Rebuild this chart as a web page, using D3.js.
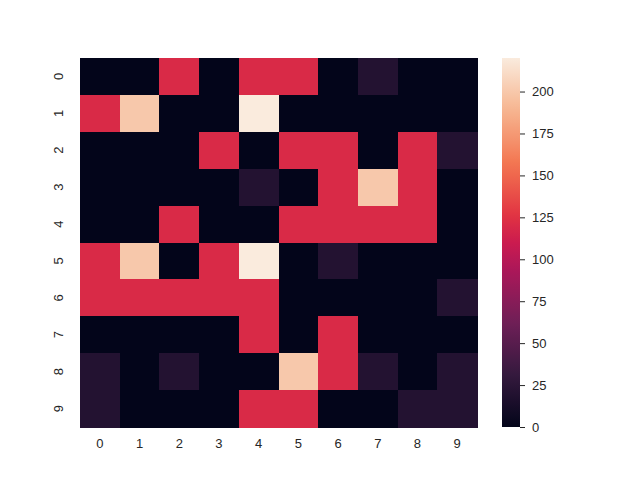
<!DOCTYPE html>
<html><head><meta charset="utf-8">
<script src="https://cdn.jsdelivr.net/npm/d3@7"></script>
<style>body{margin:0;background:#fff}svg text{font-family:"Liberation Sans",Arial,sans-serif;fill:#262626}</style>
</head><body><svg id="c" width="640" height="480"></svg>
<script>
const rowLabels = ["0","1","2","3","4","5","6","7","8","9"];
const colLabels = ["0","1","2","3","4","5","6","7","8","9"];
const values = [
 [0,0,120,0,120,120,0,20,0,0],
 [120,200,0,0,220,0,0,0,0,0],
 [0,0,0,120,0,120,120,0,120,20],
 [0,0,0,0,20,0,120,200,120,0],
 [0,0,120,0,0,120,120,120,120,0],
 [120,200,0,120,220,0,20,0,0,0],
 [120,120,120,120,120,0,0,0,0,20],
 [0,0,0,0,120,0,120,0,0,0],
 [20,0,20,0,0,200,120,20,0,20],
 [20,0,0,0,120,120,0,0,20,20]
];
const cbarTicks = [0,25,50,75,100,125,150,175,200];
const vmin = 0, vmax = 220;

const rocketStops = ["#03051a","#35193e","#701f57","#ad1759","#cb1b4f","#e13342","#f37651","#f6b48f","#faebdd"];
const stopPos = [0,1/7,2/7,3/7,0.5,4/7,5/7,6/7,1];
const rocket = d3.scaleLinear().domain(stopPos).range(rocketStops).interpolate(d3.interpolateRgb);
const color = v => rocket((v - vmin) / (vmax - vmin));

const svg = d3.select("#c");
const L = 80, R = 477, T = 58, B = 427;
const x = d3.scaleBand().domain(colLabels).range([L, R]).padding(0);
const y = d3.scaleBand().domain(rowLabels).range([T, B]).padding(0);

const cells = [];
values.forEach((row, i) => row.forEach((v, j) => cells.push({r: rowLabels[i], c: colLabels[j], v})));
svg.append("g").selectAll("rect").data(cells).join("rect")
  .attr("x", d => x(d.c)).attr("y", d => y(d.r))
  .attr("width", x.bandwidth() + 0.5).attr("height", y.bandwidth() + 0.5)
  .attr("fill", d => color(d.v)).attr("shape-rendering", "crispEdges");

const xAxis = svg.append("g").attr("transform", `translate(0,${B})`)
  .call(d3.axisBottom(x).tickSize(0).tickPadding(12));
xAxis.select(".domain").remove();
xAxis.selectAll("text").attr("font-size", 13).style("fill", "#262626");

const yAxis = svg.append("g").attr("transform", `translate(${L},0)`)
  .call(d3.axisLeft(y).tickSize(0).tickPadding(0));
yAxis.select(".domain").remove();
yAxis.selectAll("text").attr("font-size", 13).style("fill", "#262626")
  .attr("x", null).attr("dy", null)
  .attr("text-anchor", "middle")
  .attr("transform", "translate(-22,0) rotate(-90) translate(0,4.5)");

// colorbar
const cbL = 502, cbW = 18;
const cy = d3.scaleLinear().domain([vmin, vmax]).range([B, T]);
const defs = svg.append("defs");
const grad = defs.append("linearGradient").attr("id", "g").attr("x1", 0).attr("y1", 1).attr("x2", 0).attr("y2", 0);
d3.range(0, 1.0001, 0.02).forEach(t => grad.append("stop").attr("offset", t).attr("stop-color", rocket(t)));
svg.append("rect").attr("x", cbL).attr("y", T).attr("width", cbW).attr("height", B - T).attr("fill", "url(#g)");
const cAxis = svg.append("g").attr("transform", `translate(${cbL + cbW},0)`)
  .call(d3.axisRight(cy).tickValues(cbarTicks).tickSize(5).tickPadding(7));
cAxis.select(".domain").remove();
cAxis.selectAll("line").attr("stroke", "#262626").attr("stroke-width", 1);
cAxis.selectAll("text").attr("font-size", 13).style("fill", "#262626");
</script></body></html>
